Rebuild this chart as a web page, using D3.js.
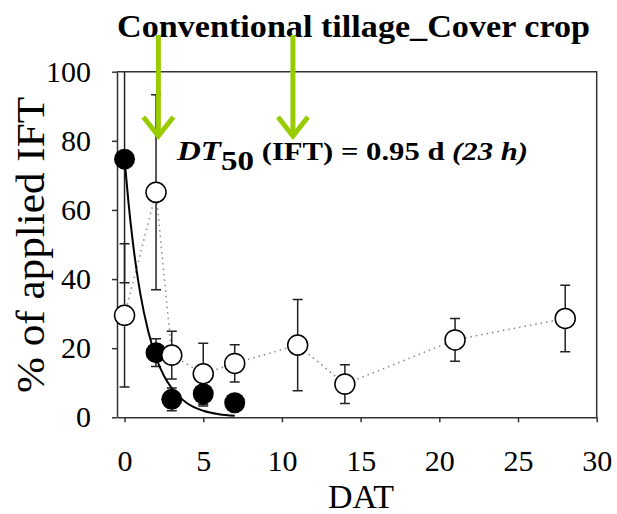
<!DOCTYPE html>
<html>
<head>
<meta charset="utf-8">
<script src="https://cdn.jsdelivr.net/npm/d3@7"></script>
<style>
  body { margin: 0; background: #fff; }
  svg text, svg tspan { font-family: "Liberation Serif", "DejaVu Serif", serif !important; }
</style>
</head>
<body>
<div id="container"></div>
<script>
/* CONSTANTS AND GLOBALS */
const width = 617, height = 514;
const serif = '"Liberation Serif", "DejaVu Serif", serif';

/* DATA */
// filled circles (IFT measured, fitted)
const filledDays = [0, 2, 3, 5, 7];
const filledMean = [74.7, 18.7, 5.2, 6.8, 4.2];
const filledSd = [35.8, 4.0, 3.3, 3.5, 0];

// open circles (dotted line)
const openDays = [0, 2, 3, 5, 7, 11, 14, 21, 28];
const openMean = [29.5, 65.1, 18.0, 12.6, 15.6, 20.9, 9.6, 22.4, 28.6];
const openSd = [20.7, 28.2, 6.9, 8.8, 5.4, 13.2, 5.6, 6.2, 9.6];

// fitted first order decay curve
const curveDays = [0, 0.25, 0.5, 0.75, 1, 1.5, 2, 2.5, 3, 4, 5, 6, 7];
const curveVals = [74.7, 62.1, 51.7, 43.0, 35.8, 25.0, 17.3, 12.0, 8.4, 4.0, 1.9, 0.9, 0.45];

// green arrows (DAT)
const arrowDays = [2.15, 10.7];

const xTicks = [0, 5, 10, 15, 20, 25, 30];
const yTicks = [0, 20, 40, 60, 80, 100];

// SCALES
var x = d3.scaleLinear()
  .domain([-0.48, 30])
  .range([117, 596.7]);

var y = d3.scaleLinear()
  .domain([0, 100])
  .range([417.3, 71.7]);

// HTML ELEMENTS
var svg = d3.select("#container")
  .append("svg")
  .attr("width", width)
  .attr("height", height)
  .attr("font-family", serif);

// frame top + right
svg.append("path")
  .attr("d", `M${x.range()[0]},${y(100)}H${x.range()[1]}V${y(0)}`)
  .attr("fill", "none")
  .attr("stroke", "#333")
  .attr("stroke-width", 1.5);

// axes
var xAxis = svg.append("g")
  .attr("transform", "translate(0," + y(0) + ")")
  .call(d3.axisBottom(x).tickValues(xTicks).tickSize(5).tickSizeOuter(0).tickPadding(27));

var yAxis = svg.append("g")
  .attr("transform", "translate(" + x.range()[0] + ",0)")
  .call(d3.axisLeft(y).tickValues(yTicks).tickSize(5).tickSizeOuter(0).tickPadding(21));

[xAxis, yAxis].forEach(g => {
  g.attr("font-family", serif).attr("font-size", 30);
  g.selectAll("path, line").attr("stroke", "#333").attr("stroke-width", 1.5);
  g.selectAll("text").attr("fill", "#000");
});

// axis labels
svg.append("text")
  .attr("text-anchor", "middle")
  .attr("x", 361)
  .attr("y", 508)
  .attr("font-size", 34)
  .text("DAT");

svg.append("text")
  .attr("text-anchor", "middle")
  .attr("transform", "translate(44," + 245 + ") rotate(-90)")
  .attr("font-size", 40)
  .attr("textLength", 296)
  .attr("lengthAdjust", "spacingAndGlyphs")
  .text("% of applied IFT");

// title
svg.append("text")
  .attr("x", 117)
  .attr("y", 37)
  .attr("font-size", 31)
  .attr("font-weight", "bold")
  .attr("textLength", 473)
  .attr("lengthAdjust", "spacingAndGlyphs")
  .text("Conventional tillage_Cover crop");

// clip for error bars above 100
svg.append("clipPath").attr("id", "plotclip")
  .append("rect")
  .attr("x", x.range()[0]).attr("y", y(100))
  .attr("width", x.range()[1] - x.range()[0])
  .attr("height", y(0) - y(100));

var openData = openDays.map((d, i) => ({ day: d, mean: openMean[i], sd: openSd[i] }));
var filledData = filledDays.map((d, i) => ({ day: d, mean: filledMean[i], sd: filledSd[i] }));
var curveData = curveDays.map((d, i) => ({ day: d, val: curveVals[i] }));

// dotted line
svg.append("path")
  .datum(openData)
  .attr("fill", "none")
  .attr("stroke", "#888")
  .attr("stroke-width", 1.5)
  .attr("stroke-dasharray", "1.5,4")
  .attr("d", d3.line().x(d => x(d.day)).y(d => y(d.mean)));

// error bars
function errorBars(data, cls) {
  var g = svg.append("g").attr("class", cls).attr("clip-path", "url(#plotclip)");
  var bars = g.selectAll("g").data(data.filter(d => d.sd > 0)).enter().append("g");
  bars.append("line")
    .attr("x1", d => x(d.day)).attr("x2", d => x(d.day))
    .attr("y1", d => y(d.mean - d.sd)).attr("y2", d => y(d.mean + d.sd));
  bars.append("line")
    .attr("x1", d => x(d.day) - 5).attr("x2", d => x(d.day) + 5)
    .attr("y1", d => y(d.mean - d.sd)).attr("y2", d => y(d.mean - d.sd));
  bars.append("line")
    .attr("x1", d => x(d.day) - 5).attr("x2", d => x(d.day) + 5)
    .attr("y1", d => y(d.mean + d.sd)).attr("y2", d => y(d.mean + d.sd));
  g.selectAll("line").attr("stroke", "#222").attr("stroke-width", 1.5);
}
errorBars(openData, "open-err");
errorBars(filledData, "filled-err");

// fitted curve
svg.append("path")
  .datum(curveData)
  .attr("fill", "none")
  .attr("stroke", "#000")
  .attr("stroke-width", 2)
  .attr("d", d3.line().curve(d3.curveMonotoneX).x(d => x(d.day)).y(d => y(d.val)));

// filled circles
svg.append("g")
  .selectAll("circle")
  .data(filledData)
  .enter()
  .append("circle")
  .attr("cx", d => x(d.day))
  .attr("cy", d => y(d.mean))
  .attr("r", 10.5)
  .style("fill", "#000");

// open circles
svg.append("g")
  .selectAll("circle")
  .data(openData)
  .enter()
  .append("circle")
  .attr("cx", d => x(d.day))
  .attr("cy", d => y(d.mean))
  .attr("r", 10)
  .style("fill", "#fff")
  .attr("stroke", "#000")
  .attr("stroke-width", 1.5);

// DT50 annotation (stretched a bit horizontally like the original)
var ann = svg.append("g")
  .attr("transform", "translate(177,160) scale(1.18,1)")
  .append("text")
  .attr("x", 0)
  .attr("y", 0)
  .attr("font-weight", "bold");
ann.append("tspan").attr("font-style", "italic").attr("font-size", 28).text("DT");
ann.append("tspan").attr("dy", 10).attr("font-size", 28).text("50");
ann.append("tspan").attr("dy", -10).attr("font-size", 26).text(" (IFT) = 0.95 d ");
ann.append("tspan").attr("font-style", "italic").attr("font-size", 26).text("(23 h)");

// green arrows
var arrows = svg.append("g")
  .selectAll("g")
  .data(arrowDays)
  .enter()
  .append("g")
  .attr("stroke", "#99cc00")
  .attr("stroke-width", 5)
  .attr("fill", "none");
arrows.append("line")
  .attr("x1", d => x(d)).attr("x2", d => x(d))
  .attr("y1", 35).attr("y2", 135);
arrows.append("path")
  .attr("d", d => `M${x(d) - 15},${117}L${x(d)},${136}L${x(d) + 15},${117}`);
</script>
</body>
</html>
